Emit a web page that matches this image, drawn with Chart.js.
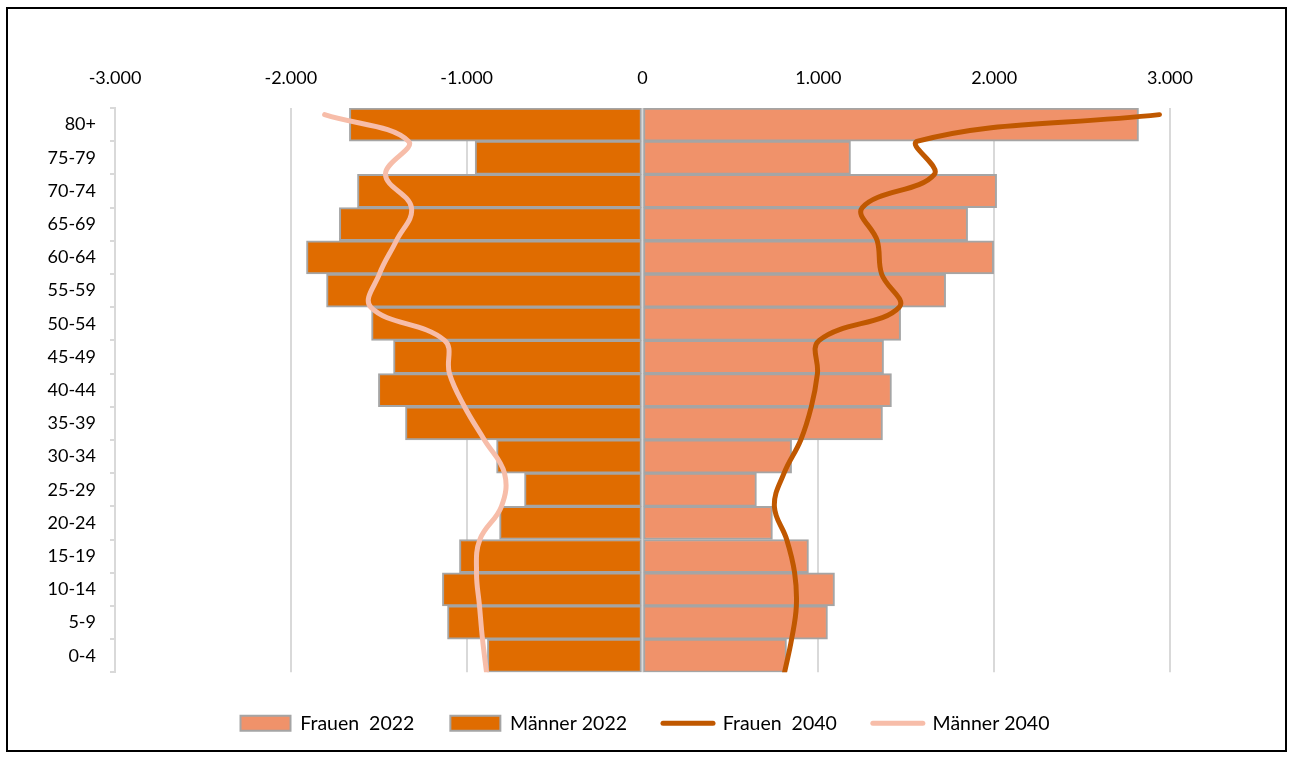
<!DOCTYPE html>
<html lang="de">
<head>
<meta charset="utf-8">
<title>Bevölkerungspyramide 2022 / 2040</title>
<script src="https://cdn.jsdelivr.net/npm/chart.js@4.4.1/dist/chart.umd.min.js"></script>
<style>
    html, body { margin: 0; padding: 0; background: #fff; }
    #wrap { position: relative; width: 1290px; height: 760px; }
    #frame {
        position: absolute; left: 6px; top: 7px; width: 1277px; height: 741px;
        border: 2px solid #000; pointer-events: none;
    }
</style>
</head>
<body>
<div id="wrap">
    <canvas id="pyramidChart" width="1290" height="760"></canvas>
    <div id="frame"></div>
</div>
<script>
// Altersgruppen (oben -> unten)
const ageGroups = ['80+', '75-79', '70-74', '65-69', '60-64', '55-59', '50-54', '45-49',
    '40-44', '35-39', '30-34', '25-29', '20-24', '15-19', '10-14', '5-9', '0-4'];

// Balken 2022
const frauen2022 = [2821, 1183, 2014, 1849, 1997, 1724, 1468, 1371, 1416, 1365, 848, 648, 739, 944, 1092, 1052, 819];
const maenner2022 = [-1667, -952, -1621, -1724, -1911, -1797, -1541, -1416, -1502, -1348, -830, -671, -813, -1041, -1138, -1109, -882];

// Linien 2040 (Stützpunkte an den Altersgrenzen)
const lineAges = [84, 80, 75, 70, 65, 60, 55, 50, 45, 40, 35, 30, 25, 20, 15, 10, 5, 0];
const frauen2040 = [2940, 1565, 1660, 1250, 1335, 1360, 1460, 1005, 995, 960, 900, 805, 750, 820, 865, 875, 848, 808];
const maenner2040 = [-1808, -1331, -1462, -1314, -1400, -1496, -1545, -1126, -1098, -1012, -899, -785, -802, -925, -944, -927, -910, -887];

// Achse
const xTicks = [-3000, -2000, -1000, 0, 1000, 2000, 3000];

const fontFamily = 'Lato, "Open Sans", sans-serif';

function toPoints(values) {
    return values.map((v, i) => ({ x: v, y: lineAges[i] }));
}

const ctx = document.getElementById('pyramidChart');

new Chart(ctx, {
    data: {
        labels: ageGroups,
        datasets: [{
            type: 'bar',
            label: 'Frauen  2022',
            data: frauen2022,
            backgroundColor: '#F0926A',
            borderColor: '#A5A5A5',
            borderWidth: 2,
            borderSkipped: false,
            grouped: false,
            barPercentage: 1,
            categoryPercentage: 1,
            xAxisID: 'x',
            yAxisID: 'y',
            order: 2
        }, {
            type: 'bar',
            label: 'Männer 2022',
            data: maenner2022,
            backgroundColor: '#E06C00',
            borderColor: '#A5A5A5',
            borderWidth: 2,
            borderSkipped: false,
            grouped: false,
            barPercentage: 1,
            categoryPercentage: 1,
            xAxisID: 'x',
            yAxisID: 'y',
            order: 2
        }, {
            type: 'line',
            label: 'Frauen  2040',
            data: toPoints(frauen2040),
            borderColor: '#C05800',
            backgroundColor: '#C05800',
            borderWidth: 5,
            borderCapStyle: 'round',
            pointRadius: 0,
            tension: 0.4,
            fill: false,
            indexAxis: 'y',
            xAxisID: 'x',
            yAxisID: 'y2',
            order: 1
        }, {
            type: 'line',
            label: 'Männer 2040',
            data: toPoints(maenner2040),
            borderColor: '#F7BDA9',
            backgroundColor: '#F7BDA9',
            borderWidth: 5,
            borderCapStyle: 'round',
            pointRadius: 0,
            tension: 0.4,
            fill: false,
            indexAxis: 'y',
            xAxisID: 'x',
            yAxisID: 'y2',
            order: 1
        }]
    },
    options: {
        indexAxis: 'y',
        responsive: false,
        animation: false,
        maintainAspectRatio: false,
        layout: {
            padding: { left: 0, right: 0, top: 0, bottom: 17 }
        },
        scales: {
            x: {
                type: 'linear',
                position: 'top',
                min: -3000,
                max: 3000,
                afterBuildTicks: function(axis) {
                    axis.ticks = xTicks.map(v => ({ value: v }));
                },
                afterFit: function(axis) {
                    axis.height = 108;
                },
                border: { display: false },
                grid: {
                    color: '#D9D9D9',
                    lineWidth: 2,
                    drawTicks: false
                },
                ticks: {
                    padding: 19,
                    color: '#000',
                    font: { family: fontFamily, size: 18 },
                    maxRotation: 0,
                    callback: function(value) {
                        return value.toLocaleString('de-DE');
                    }
                }
            },
            y: {
                type: 'category',
                position: 'left',
                offset: true,
                afterFit: function(axis) {
                    axis.width = 115;
                },
                border: { display: true, color: '#D9D9D9', width: 2 },
                grid: {
                    offset: true,
                    drawOnChartArea: false,
                    drawTicks: true,
                    tickLength: 5,
                    color: '#D9D9D9',
                    lineWidth: 2
                },
                ticks: {
                    padding: 14,
                    color: '#000',
                    font: { family: fontFamily, size: 18 }
                }
            },
            // unsichtbare Achse rechts, hält den rechten Rand frei
            y2: {
                type: 'linear',
                position: 'right',
                display: true,
                min: 0,
                max: 85,
                afterFit: function(axis) {
                    axis.width = 120;
                },
                border: { display: false },
                grid: { display: false },
                ticks: { display: false }
            }
        },
        plugins: {
            tooltip: { enabled: false },
            legend: {
                position: 'bottom',
                title: {
                    display: true,
                    text: '',
                    font: { size: 1 },
                    padding: { top: 2, bottom: 2 }
                },
                labels: {
                    usePointStyle: true,
                    pointStyleWidth: 50,
                    boxHeight: 15,
                    padding: 36,
                    color: '#000',
                    font: { family: fontFamily, size: 19.5 },
                    generateLabels: function(chart) {
                        return chart.data.datasets.map(function(ds, i) {
                            const isLine = ds.type === 'line';
                            return {
                                text: ds.label,
                                fillStyle: ds.backgroundColor,
                                strokeStyle: isLine ? ds.borderColor : '#A5A5A5',
                                lineWidth: isLine ? 5 : 2,
                                lineCap: 'round',
                                pointStyle: isLine ? 'line' : 'rect',
                                fontColor: '#000',
                                hidden: false,
                                datasetIndex: i
                            };
                        });
                    }
                }
            }
        }
    }
});
</script>
</body>
</html>
